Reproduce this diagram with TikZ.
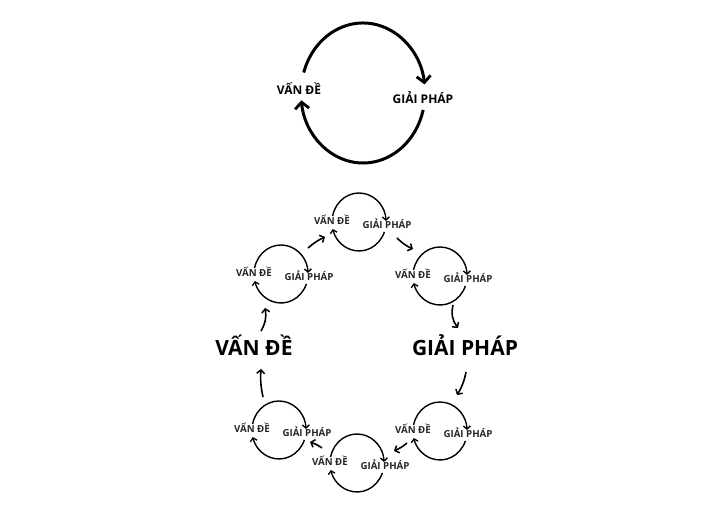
\documentclass[tikz,border=0pt]{standalone}
\usepackage{fontspec}
\setmainfont{Open Sans}
\usetikzlibrary{arrows.meta}
\tikzset{
  bigline/.style={line width=3pt, -{Straight Barb[length=6.5pt,width=14pt,line width=2.8pt]}},
  smline/.style={line width=1.4pt, -{Straight Barb[length=3.2pt,width=7pt,line width=1.3pt]}},
  conn/.style={line width=1.6pt, -{Straight Barb[length=3.5pt,width=8pt,line width=1.5pt]}},
  toptxt/.style={font=\bfseries\fontsize{12}{14}\selectfont, inner sep=0pt},
  smtxt/.style={font=\bfseries\fontsize{9.7}{11}\selectfont, inner sep=0pt, text=black!85},
  midtxt/.style={font=\bfseries\fontsize{21}{25}\selectfont, inner sep=0pt},
  cyc/.pic={
    \draw[smline] (168:27 and 29) arc[start angle=168,end angle=2,x radius=27,y radius=29];
    \draw[smline] (-20:27 and 29) arc[start angle=-20,end angle=-166,x radius=27,y radius=29];
    \node[smtxt] (-v) at (-27,2) {VẤN ĐỀ};
    \node[smtxt] (-g) at (28,-2) {GIẢI PHÁP};
  }
}
\begin{document}
\begin{tikzpicture}[x=1pt,y=1pt]
\useasboundingbox[fill=white] (0,0) rectangle (720,513);
% big top cycle
\coordinate (bc) at (363,420);
\draw[bigline] (bc) ++(163:62 and 70) arc[start angle=163,end angle=7,x radius=62,y radius=70];
\draw[bigline] (bc) ++(-14:62 and 70) arc[start angle=-14,end angle=-174,x radius=62,y radius=70];
\node[toptxt] (tv) at (299,424) {VẤN ĐỀ};
\node[toptxt] (tg) at (423,415) {GIẢI PHÁP};
% middle labels
\node[midtxt] (mv) at (254,168) {VẤN ĐỀ};
\node[midtxt] (mg) at (465,168) {GIẢI PHÁP};
% small cycles
\pic (A) at (359,291) {cyc};
\pic (B) at (281,239) {cyc};
\pic (C) at (440,237) {cyc};
\pic (D) at (279,83) {cyc};
\pic (E) at (357,50) {cyc};
\pic (F) at (440,82) {cyc};
% connectors
\coordinate (c1s) at (261,182); \coordinate (c1e) at (265,205);
\coordinate (c2s) at (263,116); \coordinate (c2e) at (261,144);
\coordinate (c3s) at (453,208); \coordinate (c3e) at (458,185);
\coordinate (c4s) at (466,141); \coordinate (c4e) at (457,118);
\coordinate (c5s) at (308,265); \coordinate (c5e) at (325,276);
\coordinate (c6s) at (397,275); \coordinate (c6e) at (413,264);
\coordinate (c7s) at (407,70);  \coordinate (c7e) at (394,62);
\coordinate (c8s) at (322,65);  \coordinate (c8e) at (310,71);
\draw[conn] (c1s) to[bend right=20] (c1e);
\draw[conn] (c2s) to[bend left=8] (c2e);
\draw[conn] (c3s) to[bend right=25] (c3e);
\draw[conn] (c4s) to[bend left=10] (c4e);
\draw[conn] (c5s) to[bend left=8] (c5e);
\draw[conn] (c6s) to[bend right=10] (c6e);
\draw[conn] (c7s) to[bend left=8] (c7e);
\draw[conn] (c8s) to[bend right=8] (c8e);
\end{tikzpicture}
\end{document}
